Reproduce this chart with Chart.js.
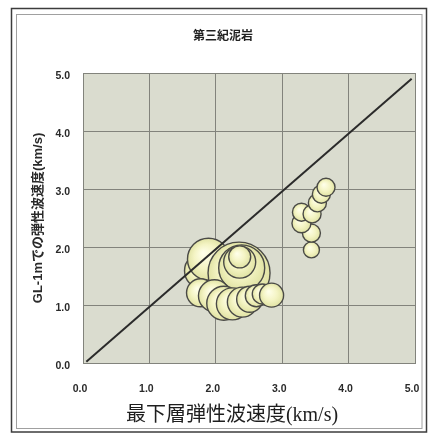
<!DOCTYPE html>
<html>
<head>
<meta charset="utf-8">
<script src="https://cdn.jsdelivr.net/npm/chart.js@4"></script>
<style>
  html, body { margin: 0; padding: 0; background: #ffffff; }
  canvas { display: block; }
</style>
</head>
<body>
<canvas id="chart" width="429" height="436"></canvas>
<script>
// Text
const chartTitle = '第三紀泥岩';
const xAxisTitle = '最下層弾性波速度(km/s)';
const yAxisTitle = 'GL-1mでの弾性波速度(km/s)';

// Axis ticks (km/s)
const tickValues = [0, 1, 2, 3, 4, 5];

// Bubbles: bottom-layer velocity (x), GL-1m velocity (y), relative bubble size
const bubbleX = [1.80, 1.89, 1.77, 2.35, 2.39, 2.36, 2.36, 1.98, 2.12, 2.25, 2.40, 2.51, 2.61, 2.70, 2.84,
                 3.44, 3.44, 3.29, 3.29, 3.45, 3.53, 3.59, 3.66];
const bubbleY = [1.59, 1.79, 1.21, 1.55, 1.64, 1.74, 1.83, 1.16, 1.03, 1.02, 1.05, 1.10, 1.16, 1.19, 1.17,
                 1.95, 2.24, 2.41, 2.60, 2.57, 2.76, 2.91, 3.03];
const bubbleSize = [1.8, 2.1, 1.4, 3.1, 2.3, 1.6, 1.1, 1.6, 1.7, 1.6, 1.5, 1.3, 1.1, 1.0, 1.2,
                    0.8, 0.9, 0.95, 0.9, 0.9, 0.9, 0.9, 0.9];

// 1:1 reference line
const refLineX = [0.05, 4.95];
const refLineY = [0.02, 4.90];

const RADIUS_PER_SIZE = 10;

const bubbles = bubbleX.map((x, i) => ({ x, y: bubbleY[i], r: bubbleSize[i] * RADIUS_PER_SIZE }));
const refLine = refLineX.map((x, i) => ({ x, y: refLineY[i] }));

function bubbleFill(ctx) {
  const chart = ctx.chart;
  if (ctx.type !== 'data' || !chart.chartArea) return '#f3f3c0';
  const p = ctx.raw;
  const cx = chart.scales.x.getPixelForValue(p.x);
  const cy = chart.scales.y.getPixelForValue(p.y);
  const r = p.r;
  const g = chart.ctx.createRadialGradient(cx - r * 0.25, cy - r * 0.3, r * 0.05, cx, cy, r);
  g.addColorStop(0, '#fefee8');
  g.addColorStop(0.55, '#f4f4c4');
  g.addColorStop(1, '#e1e3a4');
  return g;
}

// Frame, plot background and the bottom axis caption
const framePlugin = {
  id: 'frame',
  beforeDraw(chart) {
    const { ctx, chartArea: a } = chart;
    ctx.save();
    ctx.fillStyle = '#ffffff';
    ctx.fillRect(0, 0, chart.width, chart.height);
    ctx.strokeStyle = '#3c3c3c';
    ctx.lineWidth = 1.5;
    ctx.strokeRect(11.5, 8.5, 415, 423.5);
    ctx.strokeStyle = '#a0a0a0';
    ctx.lineWidth = 1;
    ctx.strokeRect(16.5, 14.5, 405.5, 414);
    ctx.fillStyle = '#dadccf';
    ctx.fillRect(a.left, a.top, a.right - a.left, a.bottom - a.top);
    ctx.restore();
  },
  afterDraw(chart) {
    const { ctx } = chart;
    ctx.save();
    ctx.fillStyle = '#1e1e1e';
    ctx.font = '20px "Liberation Serif", "Noto Sans CJK JP", serif';
    ctx.textAlign = 'center';
    ctx.textBaseline = 'middle';
    ctx.fillText(xAxisTitle, 232, 416);
    ctx.restore();
  }
};

const gridColor = '#82837c';
const tickFont = { family: '"Liberation Sans", Arial, sans-serif', size: 10.5, weight: 'bold' };

new Chart(document.getElementById('chart'), {
  data: {
    datasets: [
      {
        type: 'line',
        data: refLine,
        borderColor: '#2b2b2b',
        borderWidth: 2,
        pointRadius: 0,
        fill: false,
        order: 0
      },
      {
        type: 'bubble',
        data: bubbles,
        backgroundColor: bubbleFill,
        borderColor: '#4a4a46',
        borderWidth: 1.4,
        order: 1
      }
    ]
  },
  options: {
    responsive: false,
    animation: false,
    devicePixelRatio: 1,
    events: [],
    layout: { autoPadding: false, padding: { left: 31, right: 14, top: 0, bottom: 0 } },
    plugins: {
      legend: { display: false },
      tooltip: { enabled: false },
      title: {
        display: true,
        text: chartTitle,
        color: '#222222',
        font: { family: '"Noto Sans CJK JP", sans-serif', size: 12, weight: 'bold', lineHeight: 1.2 },
        padding: { top: 28, bottom: 30.6 }
      }
    },
    scales: {
      x: {
        type: 'linear',
        min: 0,
        max: 5,
        afterBuildTicks: s => { s.ticks = tickValues.map(v => ({ value: v })); },
        afterFit: s => { s.height = 73; },
        grid: { color: gridColor, lineWidth: 1, drawTicks: true, tickLength: 18, tickColor: 'rgba(0,0,0,0)' },
        border: { color: gridColor, width: 1 },
        ticks: {
          color: '#2a2a2a',
          font: tickFont,
          padding: 2,
          labelOffset: -3,
          maxRotation: 0,
          callback: v => Number(v).toFixed(1)
        }
      },
      y: {
        type: 'linear',
        min: 0,
        max: 5,
        afterBuildTicks: s => { s.ticks = tickValues.map(v => ({ value: v })); },
        afterFit: s => { s.width = 52; },
        grid: { color: gridColor, lineWidth: 1, drawTicks: false },
        border: { color: gridColor, width: 1 },
        ticks: {
          color: '#2a2a2a',
          font: tickFont,
          padding: 13,
          labelOffset: 3,
          callback: v => Number(v).toFixed(1)
        },
        title: {
          display: true,
          text: yAxisTitle,
          color: '#2a2a2a',
          font: { family: '"Liberation Sans", "Noto Sans CJK JP", sans-serif', size: 13, weight: 'bold', lineHeight: 1.1 },
          padding: { top: 0, bottom: 0 }
        }
      }
    }
  },
  plugins: [framePlugin]
});
</script>
</body>
</html>
